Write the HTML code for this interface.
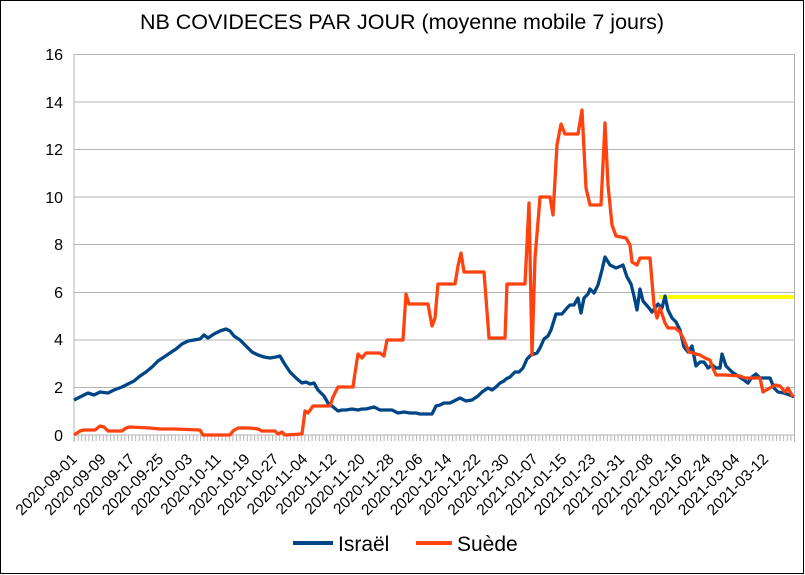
<!DOCTYPE html>
<html><head><meta charset="utf-8"><style>
body{margin:0;background:#fff}
svg{display:block;font-family:"Liberation Sans",sans-serif}
</style></head><body>
<svg width="805" height="575" viewBox="0 0 805 575" xmlns="http://www.w3.org/2000/svg">
<defs><pattern id="tk" x="74" y="0" width="3.6" height="10" patternUnits="userSpaceOnUse"><rect x="0" y="0" width="1" height="10" fill="#b3b3b3"/></pattern></defs>
<rect x="0.5" y="0.5" width="803" height="573" fill="#fff" stroke="#000"/>
<text x="402" y="29" font-size="21.5" text-anchor="middle">NB COVIDECES PAR JOUR (moyenne mobile 7 jours)</text>
<g stroke="#b3b3b3" stroke-width="1">
<line x1="74" y1="54.5" x2="794" y2="54.5"/><line x1="74" y1="102" x2="794" y2="102"/>
<line x1="74" y1="149.5" x2="794" y2="149.5"/><line x1="74" y1="197" x2="794" y2="197"/>
<line x1="74" y1="244.5" x2="794" y2="244.5"/><line x1="74" y1="292.5" x2="794" y2="292.5"/>
<line x1="74" y1="340" x2="794" y2="340"/><line x1="74" y1="387.5" x2="794" y2="387.5"/>
<line x1="74" y1="435" x2="794" y2="435"/>
<line x1="74" y1="54" x2="74" y2="442"/><line x1="794.5" y1="54" x2="794.5" y2="442"/>
</g>
<rect x="74" y="435" width="721" height="6" fill="url(#tk)"/>
<g font-size="16" text-anchor="end">
<text x="63" y="60">16</text><text x="63" y="108">14</text><text x="63" y="155">12</text>
<text x="63" y="203">10</text><text x="63" y="250">8</text><text x="63" y="298">6</text>
<text x="63" y="345">4</text><text x="63" y="393">2</text><text x="63" y="441">0</text>
</g>
<g font-size="15.5" text-anchor="end">
<text transform="translate(78,460) rotate(-45)">2020-09-01</text>
<text transform="translate(106.8,460) rotate(-45)">2020-09-09</text>
<text transform="translate(135.6,460) rotate(-45)">2020-09-17</text>
<text transform="translate(164.4,460) rotate(-45)">2020-09-25</text>
<text transform="translate(193.2,460) rotate(-45)">2020-10-03</text>
<text transform="translate(222,460) rotate(-45)">2020-10-11</text>
<text transform="translate(250.8,460) rotate(-45)">2020-10-19</text>
<text transform="translate(279.6,460) rotate(-45)">2020-10-27</text>
<text transform="translate(308.4,460) rotate(-45)">2020-11-04</text>
<text transform="translate(337.2,460) rotate(-45)">2020-11-12</text>
<text transform="translate(366,460) rotate(-45)">2020-11-20</text>
<text transform="translate(394.8,460) rotate(-45)">2020-11-28</text>
<text transform="translate(423.6,460) rotate(-45)">2020-12-06</text>
<text transform="translate(452.4,460) rotate(-45)">2020-12-14</text>
<text transform="translate(481.2,460) rotate(-45)">2020-12-22</text>
<text transform="translate(510,460) rotate(-45)">2020-12-30</text>
<text transform="translate(538.8,460) rotate(-45)">2021-01-07</text>
<text transform="translate(567.6,460) rotate(-45)">2021-01-15</text>
<text transform="translate(596.4,460) rotate(-45)">2021-01-23</text>
<text transform="translate(625.2,460) rotate(-45)">2021-01-31</text>
<text transform="translate(654,460) rotate(-45)">2021-02-08</text>
<text transform="translate(682.8,460) rotate(-45)">2021-02-16</text>
<text transform="translate(711.6,460) rotate(-45)">2021-02-24</text>
<text transform="translate(740.4,460) rotate(-45)">2021-03-04</text>
<text transform="translate(769.2,460) rotate(-45)">2021-03-12</text>
</g>
<polyline fill="none" stroke="#ffff00" stroke-width="4" points="659,297 794,297"/>
<polyline fill="none" stroke="#004586" stroke-width="3.3" stroke-linejoin="round" points="74,400 80,397 88,393 94,395 100,392 108,393 114,390 122,387 128,384 134,381 140,376 146,372 152,367 158,361 164,357 170,353 176,349 182,344 188,341 194,340 200,339 204,335 208,338 214,334 220,331 226,329 230,331 234,336 240,340 246,346 252,352 258,355 264,357 270,358 276,357 280,356 284,363 290,372 296,378 302,383 306,382 310,384 314,383 318,390 324,396 328,403 332,406 338,411 342,410 346,410 352,409 358,410 362,409 366,409 370,408 374,407 380,410 386,410 392,410 398,413 404,412 410,413 416,413 420,414 426,414 432,414 436,406 440,405 444,403 450,403 456,400 460,398 466,401 472,400 478,396 482,392 488,388 492,390 496,387 500,383 504,381 506,379 510,377 515,372 519,372 523,368 527,359 531,355 537,353 540,348 544,339 548,336 551,330 556,314 562,314 567,308 570,305 574,305 578,298 581,313 584,298 588,294 590,289 594,293 598,285 602,270 605,257 610,265 616,268 621,266 623,265 627,277 631,284 634,296 637,310 640,289 643,301 649,308 652,312 658,304 662,308 665,296 668,310 672,318 676,322 680,330 684,347 688,352 692,346 696,366 700,362 704,362 708,368 712,365 716,368 720,368 722,354 726,366 732,372 738,376 744,380 748,383 752,377 756,374 760,378 764,378 770,378 774,388 778,392 784,393 790,395 794,397"/>
<polyline fill="none" stroke="#ff420e" stroke-width="3.3" stroke-linejoin="round" points="74,435 80,431 84,430 95,430 100,426 104,427 108,431 122,431 126,428 130,427 150,428 160,429 175,429 200,430 203,435 230,435 233,431 238,428 250,428 258,429 262,431 275,431 278,434 282,432 285,435 302,434 305,411 308,413 313,406 330,406 333,397 338,387 353,387 355,373 358,354 362,358 366,353 380,353 384,356 387,340 403,340 406,294 409,304 428,304 432,326 435,318 438,284 455,284 458,266 461,253 464,272 484,272 489,338 505,338 507,284 525,284 529,203 532,355 535,258 539,210 540,197 550,197 553,215 557,145 561,124 565,134 578,134 582,110 586,188 590,205 601,205 605,123 608,185 612,225 616,236 626,238 630,245 632,262 637,265 640,258 650,258 654,305 657,318 660,308 665,323 668,328 675,328 680,332 684,340 689,352 700,355 705,358 710,360 712,366 716,375 725,375 740,376 745,378 760,378 763,392 768,389 775,385 780,386 785,392 788,388 793,397"/>
<line x1="293" y1="543" x2="333" y2="543" stroke="#004586" stroke-width="4"/>
<text x="338" y="551" font-size="21">Israël</text>
<line x1="416" y1="543" x2="452" y2="543" stroke="#ff420e" stroke-width="4"/>
<text x="457" y="551" font-size="21">Suède</text>
</svg>
</body></html>
